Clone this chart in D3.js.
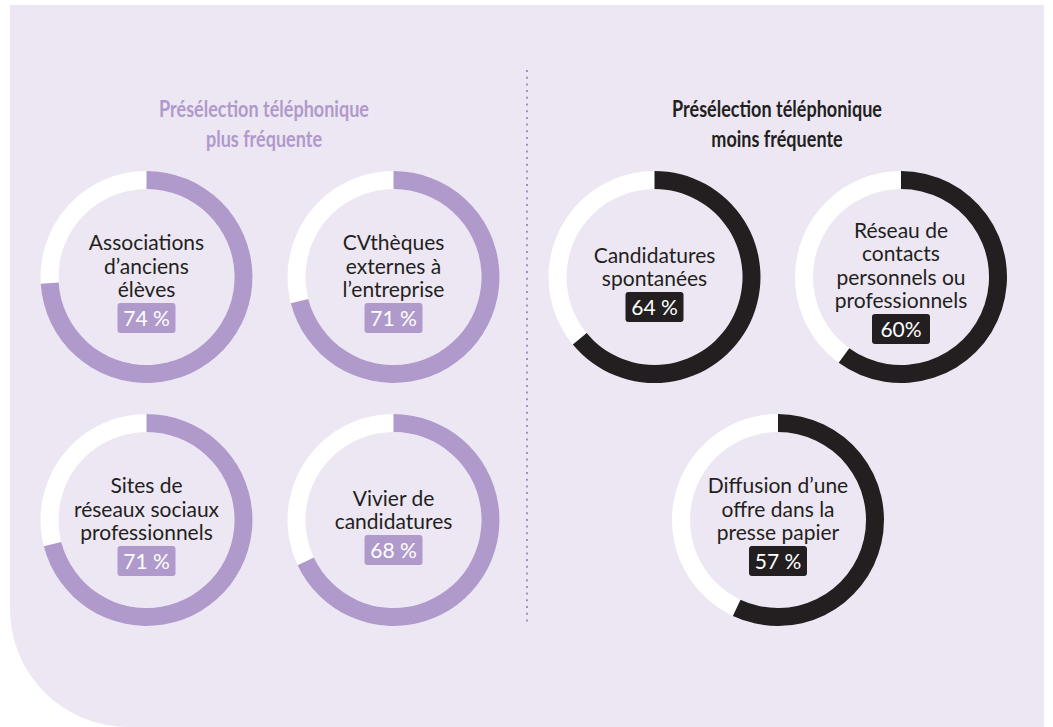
<!DOCTYPE html>
<html><head><meta charset="utf-8">
<script src="https://cdn.jsdelivr.net/npm/d3@7"></script>
<style>html,body{margin:0;padding:0;background:#fff;}svg{display:block;}</style>
</head><body>
<svg id="chart" width="1053" height="727"></svg>
<script>
const groupTitles = [["Présélection téléphonique", "plus fréquente"], ["Présélection téléphonique", "moins fréquente"]];
const categories = [
  ["Associations", "d’anciens", "élèves"],
  ["CVthèques", "externes à", "l’entreprise"],
  ["Sites de", "réseaux sociaux", "professionnels"],
  ["Vivier de", "candidatures"],
  ["Candidatures", "spontanées"],
  ["Réseau de", "contacts", "personnels ou", "professionnels"],
  ["Diffusion d’une", "offre dans la", "presse papier"]
];
const values = [74, 71, 71, 68, 64, 60, 57];
const valueLabels = ["74 %", "71 %", "71 %", "68 %", "64 %", "60%", "57 %"];
const groups = [0, 0, 0, 0, 1, 1, 1];

const W = 1053, H = 727;
const svg = d3.select("#chart");
const purple = "#b09acb", dark = "#231f20", bg = "#ede7f4";
const colors = [purple, dark];

// background panel
svg.append("path")
  .attr("d", "M10,5 H1044 V727 H128 A118,118 0 0 1 10,609 Z")
  .attr("fill", bg);

const colX = d3.scaleOrdinal().domain([0,1,2,3]).range([146.5, 393.5, 654.5, 901]);
const rowY = d3.scalePoint().domain([0,1]).range([277, 520]);
const slots = [[0,0],[1,0],[0,1],[1,1],[2,0],[3,0],[null,1]];

// divider
svg.append("line")
  .attr("x1", 527).attr("x2", 527).attr("y1", 70).attr("y2", 626)
  .attr("stroke", "#a590c4").attr("stroke-width", 2)
  .attr("stroke-dasharray", "2,4.7");

// titles
const titleX = [264, 777];
groupTitles.forEach((lines, g) => {
  const t = svg.append("text")
    .attr("transform", `translate(${titleX[g]},0) scale(0.82,1)`)
    .attr("text-anchor", "middle")
    .attr("font-family", "Lato, 'Open Sans', sans-serif")
    .attr("font-weight", 700)
    .attr("font-size", 22)
    .attr("fill", colors[g]);
  lines.forEach((l, i) => t.append("tspan").attr("x", 0).attr("y", 117 + i * 30).text(l));
});

const angle = d3.scaleLinear().domain([0, 100]).range([0, 2 * Math.PI]);
const arc = d3.arc().innerRadius(88).outerRadius(106);

categories.forEach((lines, i) => {
  const s = slots[i];
  const cx = s[0] === null ? 778 : colX(s[0]);
  const cy = rowY(s[1]);
  const gEl = svg.append("g").attr("transform", `translate(${cx},${cy})`);
  gEl.append("path").attr("d", arc({startAngle: 0, endAngle: 2 * Math.PI})).attr("fill", "#fff");
  gEl.append("path").attr("d", arc({startAngle: 0, endAngle: angle(values[i])})).attr("fill", colors[groups[i]]);
  const n = lines.length;
  const first = -(n - 1) * 12.5 - 2;
  const t = gEl.append("text")
    .attr("text-anchor", "middle")
    .attr("font-family", "Lato, 'Open Sans', sans-serif")
    .attr("font-size", 21)
    .attr("fill", dark);
  lines.forEach((l, k) => t.append("tspan").attr("x", 0).attr("y", first + k * 23.5).text(l));
  const boxTop = first + (n - 1) * 23.5 + 6;
  gEl.append("rect").attr("x", -29).attr("y", boxTop).attr("width", 58).attr("height", 30)
    .attr("rx", 3).attr("fill", colors[groups[i]]);
  gEl.append("text").attr("text-anchor", "middle")
    .attr("x", 0).attr("y", boxTop + 23)
    .attr("font-family", "Lato, 'Open Sans', sans-serif")
    .attr("font-size", 21).attr("fill", "#fff")
    .text(valueLabels[i]);
});
</script>
</body></html>
